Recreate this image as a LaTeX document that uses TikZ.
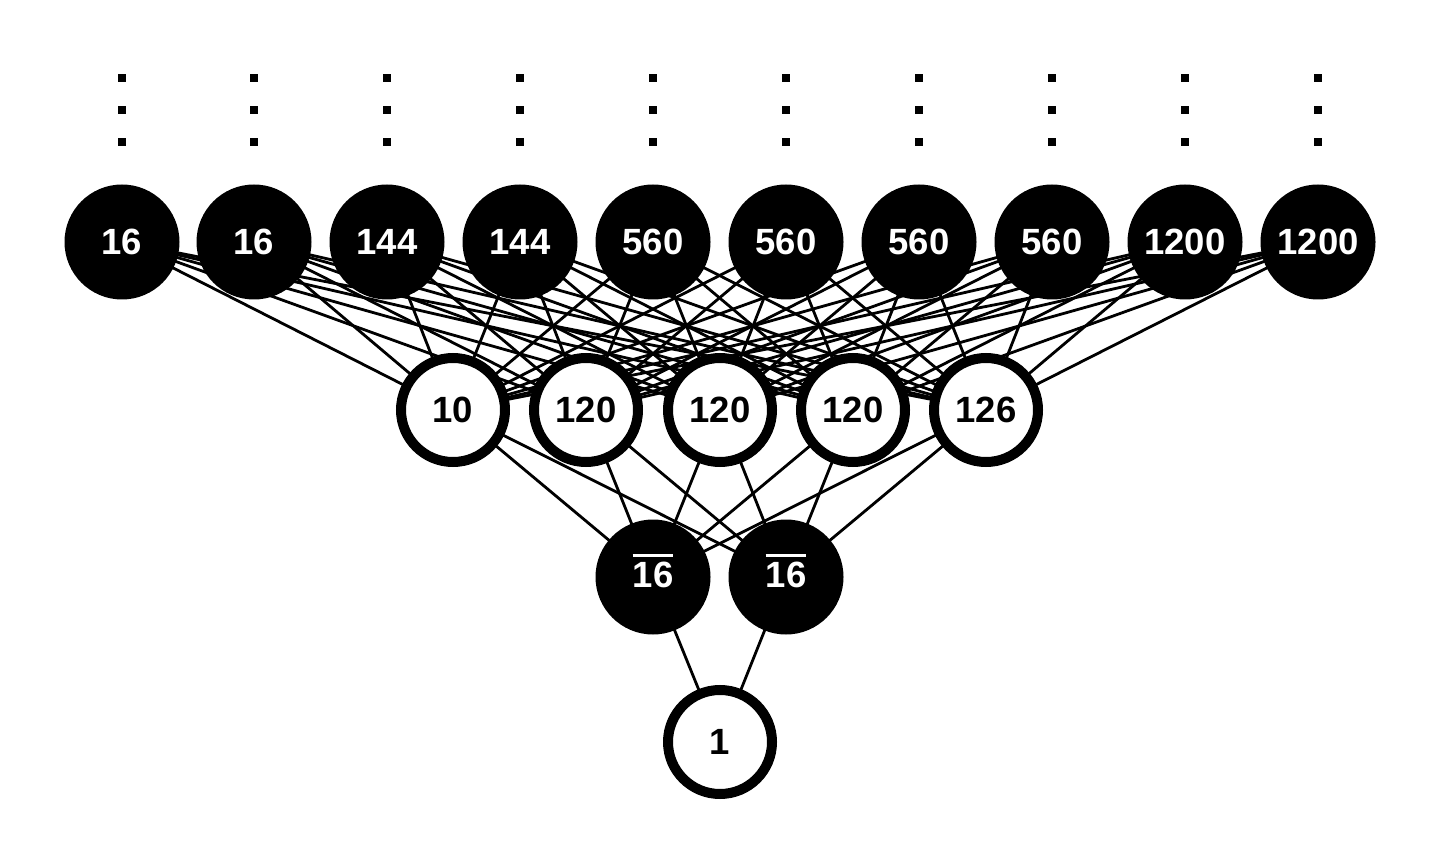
\documentclass[tikz,border=0pt]{standalone}
\usepackage{fontspec}
\setmainfont{Liberation Sans}
\usetikzlibrary{backgrounds}
\newcommand\myovl[1]{\leavevmode\vbox{\hrule height 3pt \kern 5pt \hbox{#1}\kern 12pt}}
\begin{document}
\begin{tikzpicture}[x=1pt,y=-1pt,
  blk/.style={circle,fill=black,draw=none,minimum size=115pt,inner sep=0pt,text=white,font=\fontsize{36.5}{40}\selectfont\bfseries},
  wht/.style={circle,fill=white,draw=black,line width=10pt,minimum size=104pt,inner sep=0pt,text=black,font=\fontsize{36.5}{40}\selectfont\bfseries},
  conn/.style={line width=2.8pt,black},
  dotsq/.style={fill=black,draw=none,minimum size=8pt,inner sep=0pt}]
\useasboundingbox (0,0) rectangle (1452,842);
% top row
\foreach \i/\x/\t in {1/122/16,2/254/16,3/387/144,4/520/144,5/653/560,6/786/560,7/919/560,8/1052/560,9/1185/1200,10/1318/1200}{
  \node[blk] (t\i) at (\x,242) {\t};
  \node[dotsq] (da\i) at (\x,78) {};
  \node[dotsq] (db\i) at (\x,110) {};
  \node[dotsq] (dc\i) at (\x,142) {};
}
% middle row
\foreach \i/\x/\t in {1/453/10,2/586/120,3/720/120,4/853/120,5/986/126}{
  \node[wht] (m\i) at (\x,410) {\t};
}
\node[blk] (b1) at (653,577) {\myovl{16}};
\node[blk] (b2) at (786,577) {\myovl{16}};
\node[wht] (one) at (720,742) {1};
\begin{scope}[on background layer]
  \fill[white] (0,0) rectangle (1452,842);
  \foreach \i in {1,...,10}{
    \foreach \j in {1,...,5}{
      \draw[conn] (t\i.center) -- (m\j.center);
    }
  }
  \foreach \j in {1,...,5}{
    \draw[conn] (m\j.center) -- (b1.center);
    \draw[conn] (m\j.center) -- (b2.center);
  }
  \draw[conn] (b1.center) -- (one.center);
  \draw[conn] (b2.center) -- (one.center);
\end{scope}
\end{tikzpicture}
\end{document}
